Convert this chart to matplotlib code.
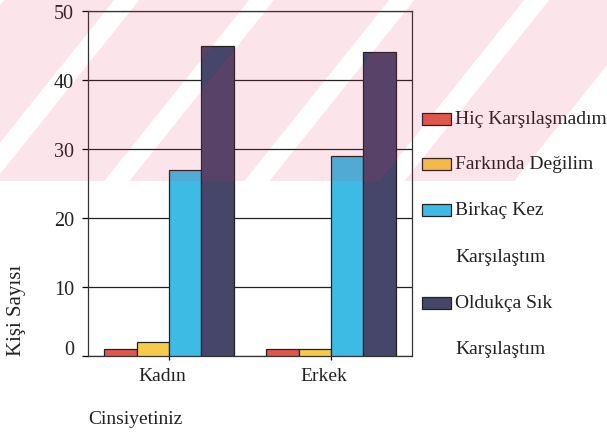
import numpy as np
import matplotlib
matplotlib.use("Agg")
import matplotlib.pyplot as plt
from matplotlib.patches import Rectangle, Polygon
from matplotlib import transforms

plt.rcParams["font.family"] = ["Liberation Serif", "DejaVu Serif"]

# veriler
gruplar = ["Kadın", "Erkek"]
seriler = ["Hiç Karşılaşmadım", "Farkında Değilim", "Birkaç Kez\nKarşılaştım", "Oldukça Sık\nKarşılaştım"]
hic = [1, 1]
farkinda = [2, 1]
birkac = [27, 29]
olduk = [45, 44]
renkler = ["#e0574c", "#f7cb4a", "#3dbbe4", "#46456a"]

W, H = 607, 435
fig = plt.figure(figsize=(W / 100, H / 100), dpi=100)


def px(x, y):
    # piksel -> figür koordinatı
    return x / W, 1 - y / H


ax = fig.add_axes([88 / W, 1 - 357 / H, (412 - 88) / W, (357 - 12) / H])

x = np.arange(len(gruplar))
genislik = 0.2
for i, (deg, renk) in enumerate(zip([hic, farkinda, birkac, olduk], renkler)):
    ax.bar(x + (i - 1.5) * genislik, deg, genislik, color=renk,
           edgecolor="#222222", linewidth=0.9, zorder=3)

ax.set_xlim(-0.5, 1.5)
ax.set_ylim(0, 50)
ax.set_yticks(range(0, 51, 10))
ax.set_xticks(x)
ax.set_xticklabels(gruplar, fontsize=14, color="#222222")
ax.tick_params(axis="y", labelsize=14.5, labelcolor="#222222", length=4, width=0.9, pad=6)
ax.tick_params(axis="x", length=3, width=0.9, pad=5)
ax.grid(axis="y", color="#222222", linewidth=0.9)
ax.set_axisbelow(True)
for s in ax.spines.values():
    s.set_color("#333333")
    s.set_linewidth(0.9)

# "0" etiketi biraz yukarıda, x etiketleri biraz solda
lbl0 = ax.get_yticklabels()[0]
lbl0.set_transform(lbl0.get_transform() + transforms.ScaledTranslation(0, 9 / 100, fig.dpi_scale_trans))
for lbl in ax.get_xticklabels():
    lbl.set_transform(lbl.get_transform() + transforms.ScaledTranslation(-7 / 100, 0, fig.dpi_scale_trans))

# lejant (elle)
lejant_y = [120, 165, 211, 304]
for etiket, renk, yy in zip(seriler, renkler, lejant_y):
    x0, y0 = px(422, yy + 6)
    fig.patches.append(Rectangle((x0, y0), 29 / W, 12 / H, transform=fig.transFigure,
                                 facecolor=renk, edgecolor="#222222", linewidth=0.9))
    for k, s in enumerate(etiket.split("\n")):
        fig.text(*px(455, yy + 46 * k), s, fontsize=14, va="center", ha="left", color="#222222")

fig.text(*px(17, 310), "Kişi Sayısı", rotation=90, fontsize=15, va="center", ha="center", color="#222222")
fig.text(*px(88, 420), "Cinsiyetiniz", fontsize=14, va="center", ha="left", color="#222222")

# arka plandaki filigran (pembe çapraz şeritler)
alt = 182
egim = 0.8
seritler = [-20, 115, 250, 390, 525, 660]
for i in range(len(seritler) - 1):
    a = seritler[i] + 25
    b = seritler[i + 1]
    kose = [px(a, 0), px(b, 0), px(b - egim * alt, alt), px(a - egim * alt, alt)]
    fig.patches.append(Polygon(kose, closed=True, transform=fig.transFigure,
                               facecolor="#e8305a", alpha=0.12, edgecolor="none", zorder=10))

fig.savefig("out.png", dpi=100)
